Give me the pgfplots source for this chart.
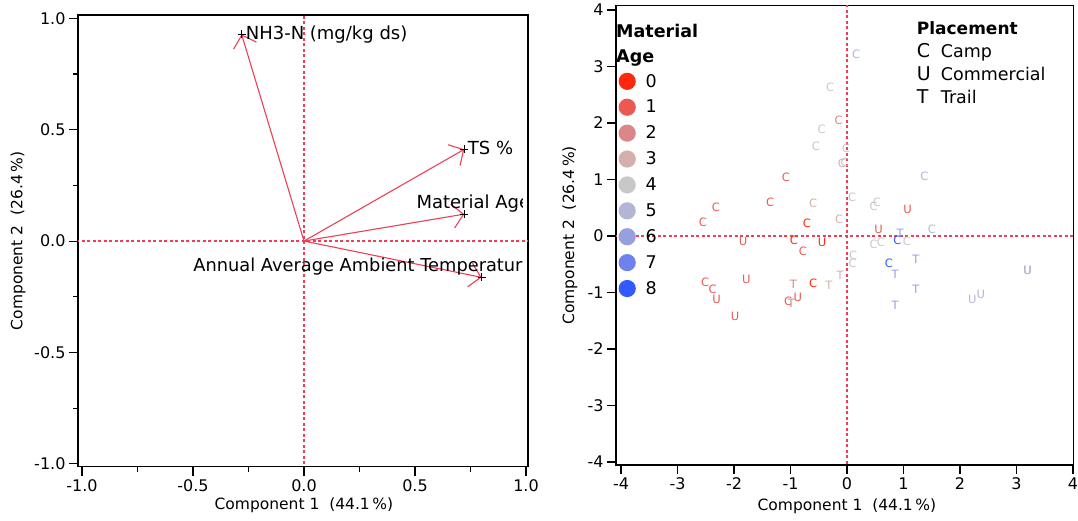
\documentclass[border=0pt]{standalone}
\usepackage{fontspec}
\setmainfont{DejaVu Sans}
\usepackage{pgfplots}
\pgfplotsset{compat=1.18}
\usetikzlibrary{arrows.meta}
\definecolor{refred}{RGB}{236,64,86}
\definecolor{age0}{RGB}{255,40,15}
\definecolor{age1}{RGB}{236,88,82}
\definecolor{age2}{RGB}{218,135,135}
\definecolor{age3}{RGB}{212,175,172}
\definecolor{age4}{RGB}{200,200,200}
\definecolor{age5}{RGB}{178,182,212}
\definecolor{age6}{RGB}{150,160,222}
\definecolor{age7}{RGB}{110,130,238}
\definecolor{age8}{RGB}{50,90,255}
\newcommand{\fs}[1]{\fontsize{#1}{#1}\selectfont}
\pgfplotsset{
  pcaaxis/.style={
    scale only axis, anchor=south west,
    axis line style={black, line width=1.3pt},
    tick align=outside, tick pos=left,
    major tick length=9pt, minor tick length=5pt,
    every tick/.style={black, line width=1.1pt},
    /pgf/number format/assume math mode=true,
    tick label style={font=\fs{16}},
    label style={font=\fs{15.5}},
  },
  letters/.style={draw=none, mark=none, forget plot, nodes near coords,
    point meta=explicit symbolic,
    every node near coord/.style={anchor=center, inner sep=0pt, font=\fs{11.5}, text=#1}},
  refline/.style={draw=refred, color=refred, line width=1.2pt, dash pattern=on 3pt off 2.5pt, forget plot},
}
\begin{document}
\begin{tikzpicture}
\path[use as bounding box] (-78pt,-53.3pt) rectangle (1000pt,466.7pt);
% ---------------- left: loadings ----------------
\begin{axis}[pcaaxis, at={(0pt,0pt)}, width=450pt, height=451.7pt,
  xmin=-1.018, xmax=1.009, ymin=-1.013, ymax=1.015,
  xtick={-1,-0.5,0,0.5,1}, ytick={-1,-0.5,0,0.5,1},
  minor xtick={-0.75,-0.25,0.25,0.75}, minor ytick={-0.75,-0.25,0.25,0.75},
  xticklabel style={/pgf/number format/fixed, /pgf/number format/fixed zerofill, /pgf/number format/precision=1},
  yticklabel style={/pgf/number format/fixed, /pgf/number format/fixed zerofill, /pgf/number format/precision=1},
  xlabel={Component 1\ \ (44.1\,\%)}, ylabel={Component 2\ \ (26.4\,\%)},
  xlabel style={at={(axis description cs:0.502,-0.086)}, anchor=center},
  ylabel style={at={(axis description cs:-0.1333,0.5)}, anchor=center},
]
\addplot[refline] coordinates {(0,-1.2) (0,1.2)};
\addplot[refline] coordinates {(-1.2,0) (1.2,0)};
\addplot[refred, line width=1.1pt, -{Straight Barb[length=11pt,width=24pt]}] coordinates {(0,0) (-0.281,0.928)};
\addplot[refred, line width=1.1pt, -{Straight Barb[length=11pt,width=24pt]}] coordinates {(0,0) (0.722,0.412)};
\addplot[refred, line width=1.1pt, -{Straight Barb[length=11pt,width=24pt]}] coordinates {(0,0) (0.722,0.121)};
\addplot[refred, line width=1.1pt, -{Straight Barb[length=11pt,width=24pt]}] coordinates {(0,0) (0.800,-0.163)};
\addplot[only marks, mark=+, mark size=4pt, black, line width=0.7pt] coordinates {(-0.281,0.928) (0.722,0.412) (0.722,0.121) (0.800,-0.163)};
\begin{scope}
\clip (axis cs:-1.018,-1.013) rectangle (axis cs:0.984,1.015);
\node[anchor=base west, inner sep=0pt, font=\fs{18}, xshift=4pt, yshift=-4.9pt] at (axis cs:-0.281,0.928) {NH3-N (mg/kg ds)};
\node[anchor=base west, inner sep=0pt, font=\fs{18}, xshift=3.5pt, yshift=-4.9pt] at (axis cs:0.722,0.412) {TS \%};
\node[anchor=base west, inner sep=0pt, font=\fs{18}] at (axis cs:0.506,0.147) {Material Age};
\node[anchor=base west, inner sep=0pt, font=\fs{17.8}] at (axis cs:-0.499,-0.138) {Annual Average Ambient Temperature};
\end{scope}
\end{axis}
% ---------------- right: scores ----------------
\begin{axis}[pcaaxis, at={(538pt,1.7pt)}, width=457.3pt, height=459.3pt,
  xmin=-4.088, xmax=4.005, ymin=-4.053, ymax=4.076,
  xtick={-4,-3,...,4}, ytick={-4,-3,...,4},
  xlabel={Component 1\ \ (44.1\,\%)}, ylabel={Component 2\ \ (26.4\,\%)},
  xlabel style={at={(axis description cs:0.505,-0.089)}, anchor=center},
  ylabel style={at={(axis description cs:-0.1007,0.5)}, anchor=center},
  legend image code/.code={\path[draw=none,fill=none] (0pt,-12.95pt) rectangle (27.5pt,12.95pt); \fill[#1, draw=none] (11pt,0pt) circle (8.6pt);},
  legend style={at={(axis description cs:0,0.8640)}, anchor=north west, draw=none, fill=none,
    inner sep=0pt, row sep=0pt, font=\fs{17.5}, legend cell align=left},
]
\addlegendimage{age0}\addlegendentry{0}
\addlegendimage{age1}\addlegendentry{1}
\addlegendimage{age2}\addlegendentry{2}
\addlegendimage{age3}\addlegendentry{3}
\addlegendimage{age4}\addlegendentry{4}
\addlegendimage{age5}\addlegendentry{5}
\addlegendimage{age6}\addlegendentry{6}
\addlegendimage{age7}\addlegendentry{7}
\addlegendimage{age8}\addlegendentry{8}
\addplot[refline] coordinates {(0,-5) (0,5)};
\addplot[refline] coordinates {(-5,0) (5,0)};
\addplot[letters=age0] table[meta=l] {
x y l
-0.94 -0.07 C
-0.44 -0.11 U
-0.60 -0.84 C
-0.71 0.22 C
};
\addplot[letters=age1] table[meta=l] {
x y l
-1.08 1.03 C
-1.36 0.60 C
-2.32 0.50 C
-2.55 0.24 C
-1.84 -0.09 U
-0.78 -0.27 C
-2.51 -0.82 C
-2.38 -0.94 C
-2.31 -1.12 U
-1.78 -0.77 U
-1.98 -1.42 U
-1.04 -1.16 C
-0.87 -1.09 U
1.07 0.47 U
0.56 0.11 U
};
\addplot[letters=age2] table[meta=l] {
x y l
-0.95 -0.85 T
-0.99 -1.20 T
-0.15 2.05 C
};
\addplot[letters=age3] table[meta=l] {
x y l
-0.60 0.58 C
-0.14 0.30 C
-0.12 -0.69 T
-0.32 -0.88 T
-0.09 1.29 C
};
\addplot[letters=age4] table[meta=l] {
x y l
0.09 0.68 C
0.11 -0.34 C
0.10 -0.48 C
-0.30 2.64 C
-0.45 1.89 C
-0.55 1.59 C
-0.02 1.55 C
-0.04 1.30 C
0.47 0.52 C
0.53 0.59 C
0.47 -0.15 C
0.60 -0.12 C
1.06 -0.10 C
};
\addplot[letters=age5] table[meta=l] {
x y l
0.16 3.22 C
1.37 1.06 C
1.50 0.12 C
2.22 -1.12 U
2.37 -1.04 U
3.19 -0.60 U
3.20 -0.61 U
};
\addplot[letters=age6] table[meta=l] {
x y l
1.22 -0.42 T
0.85 -0.68 T
1.22 -0.94 T
0.85 -1.22 T
0.94 0.04 T
};
\addplot[letters=age8] table[meta=l] {
x y l
0.89 -0.08 C
0.74 -0.48 C
};
\node[anchor=base west, inner sep=0pt, font=\fs{17.5}\bfseries] at (axis description cs:0,0.9312) {Material};
\node[anchor=base west, inner sep=0pt, font=\fs{17.5}\bfseries] at (axis description cs:0,0.8759) {Age};
\node[anchor=base west, inner sep=0pt, font=\fs{17}\bfseries] at (axis description cs:0.6575,0.9362) {Placement};
\node[anchor=base west, inner sep=0pt, font=\fs{19}] at (axis description cs:0.6575,0.8866) {C};
\node[anchor=base west, inner sep=0pt, font=\fs{17.5}] at (axis description cs:0.710,0.8866) {Camp};
\node[anchor=base west, inner sep=0pt, font=\fs{19}] at (axis description cs:0.6575,0.8367) {U};
\node[anchor=base west, inner sep=0pt, font=\fs{17.5}] at (axis description cs:0.710,0.8367) {Commercial};
\node[anchor=base west, inner sep=0pt, font=\fs{19}] at (axis description cs:0.6575,0.7875) {T};
\node[anchor=base west, inner sep=0pt, font=\fs{17.5}] at (axis description cs:0.710,0.7875) {Trail};
\end{axis}
\end{tikzpicture}
\end{document}
